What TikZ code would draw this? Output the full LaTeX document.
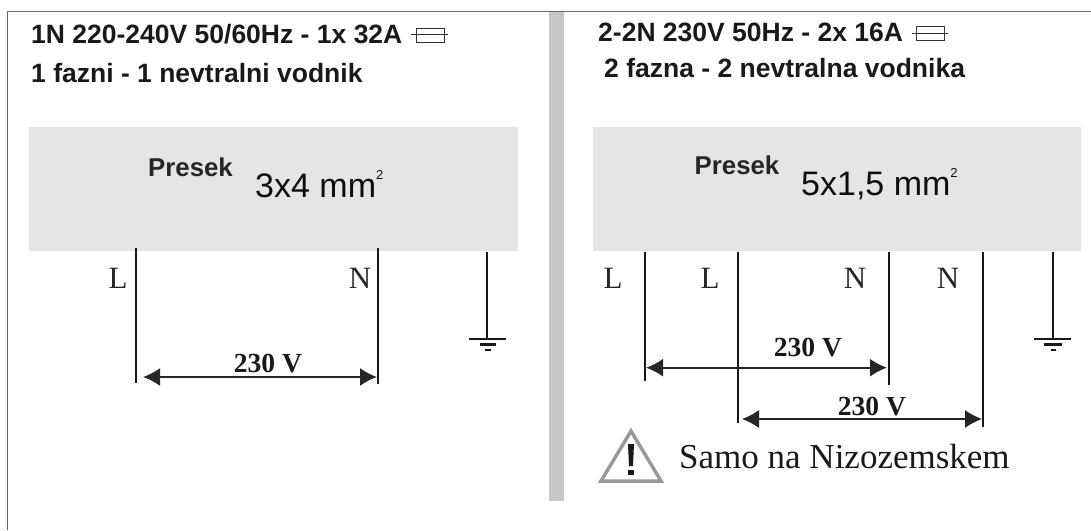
\documentclass[tikz,border=0pt]{standalone}
\usepackage{fontspec}
\usetikzlibrary{arrows.meta}
\setmainfont{Liberation Serif}
\setsansfont{Liberation Sans}
\begin{document}
\begin{tikzpicture}[
        x=1pt,y=-1pt,
        head/.style={anchor=base west,inner sep=0pt,font=\sffamily\bfseries\fontsize{26.5}{28}\selectfont,text=black!90},
        presek/.style={anchor=base west,inner sep=0pt,font=\sffamily\bfseries\fontsize{25.8}{27}\selectfont,text=black!85},
        sizelab/.style={anchor=base west,inner sep=0pt,font=\sffamily\fontsize{34}{36}\selectfont,text=black!95},
        phase/.style={anchor=base,inner sep=0pt,font=\fontsize{31}{32}\selectfont,text=black!85},
        volt/.style={anchor=base,inner sep=0pt,font=\bfseries\fontsize{27.6}{29}\selectfont,text=black!90},
        wire/.style={draw=black!90,line width=2.1pt},
        spanarrow/.style={draw=black!85,line width=1.9pt,{Latex[length=17pt,width=18pt]}-{Latex[length=17pt,width=18pt]}},
        fuse/.style={draw=black!80,line width=0.7pt}
      ]
      \useasboundingbox (0,0) rectangle (1091,530);
      \definecolor{panel}{RGB}{228,229,231}
      \definecolor{rule}{RGB}{198,199,201}
      % frame
      \draw[black!60,line width=1.2pt] (7.5,530) -- (7.5,11.5) -- (1091,11.5);
      \fill[rule] (548.5,12) rectangle (564,501);
      \fill[panel] (28.5,127) rectangle (518,251);
      \fill[panel] (593,127) rectangle (1081,251);
      % left side
      \node[head] (headl) at (31,43) {1N 220-240V 50/60Hz - 1x 32A};
      \node[head] (subl) at (31,82) {1 fazni - 1 nevtralni vodnik};
      \draw[fuse] (416,28) rectangle (444,42);
      \draw[fuse] (411,34.7) -- (448,34.7);
      \node[presek] (presl) at (148,176) {Presek};
      \node[sizelab] (sizel) at (255,197) {3x4 mm\raisebox{18pt}{\fontsize{13}{13}\selectfont 2}};
      \coordinate (ltop) at (136,248);
      \coordinate (lbot) at (136,383);
      \coordinate (ntop) at (378,248);
      \coordinate (nbot) at (378,384);
      \draw[wire] (ltop) -- (lbot);
      \draw[wire] (ntop) -- (nbot);
      \node[phase] (labl) at (118,288) {L};
      \node[phase] (labn) at (360,288) {N};
      \coordinate (va) at (143,377);
      \coordinate (vb) at (377,377);
      \draw[spanarrow] (va) -- (vb);
      \node[volt] (voltl) at (268,372) {230 V};
      % earth left
      \coordinate (etop) at (487,252);
      \coordinate (ebot) at (487,339);
      \draw[wire,line width=2.8pt] (etop) -- (ebot);
      \draw[wire] (469,339) -- (506,339);
      \draw[wire] (480,344.5) -- (496,344.5);
      \draw[wire] (485,350) -- (491,350);
      % right side
      \node[head] (headr) at (598,41.7) {2-2N 230V 50Hz - 2x 16A};
      \node[head] (subr) at (604,77.7) {2 fazna - 2 nevtralna vodnika};
      \draw[fuse] (916,26) rectangle (944.5,40.7);
      \draw[fuse] (912,33.3) -- (948,33.3);
      \node[presek] (presr) at (694.5,174) {Presek};
      \node[sizelab] (sizer) at (801,195) {5x1,5 mm\raisebox{18pt}{\fontsize{13}{13}\selectfont 2}};
      \coordinate (la) at (645,252);
      \coordinate (lb) at (645,381);
      \coordinate (lc) at (738,252);
      \coordinate (ld) at (738,423);
      \coordinate (na) at (889,252);
      \coordinate (nb) at (889,385);
      \coordinate (nc) at (983,252);
      \coordinate (nd) at (983,427);
      \draw[wire] (la) -- (lb);
      \draw[wire] (lc) -- (ld);
      \draw[wire] (na) -- (nb);
      \draw[wire] (nc) -- (nd);
      \node[phase] (labla) at (613,288) {L};
      \node[phase] (lablb) at (710,288) {L};
      \node[phase] (labna) at (855,288) {N};
      \node[phase] (labnb) at (948,288) {N};
      \coordinate (vc) at (646,367.7);
      \coordinate (vd) at (887,367.7);
      \coordinate (ve) at (742,419);
      \coordinate (vf) at (982,419);
      \draw[spanarrow] (vc) -- (vd);
      \draw[spanarrow,line width=1.2pt] (ve) -- (vf);
      \node[volt] (voltra) at (808,356) {230 V};
      \node[volt] (voltrb) at (872,415) {230 V};
      % earth right
      \coordinate (fa) at (1053,252);
      \coordinate (fb) at (1053,339);
      \draw[wire,line width=2.8pt] (fa) -- (fb);
      \draw[wire] (1034,339) -- (1071,339);
      \draw[wire] (1044,344.5) -- (1062,344.5);
      \draw[wire] (1051,350) -- (1056,350);
      % warning
      \draw[black!40,line width=3.5pt,line join=miter] (631,431) -- (661,481) -- (601,481) -- cycle;
      \fill[black!90] (628,444) -- (634,444) -- (633,466) -- (629,466) -- cycle;
      \fill[black!90] (628,470) rectangle (634,475);
      \node[anchor=base west,inner sep=0pt,font=\fontsize{35}{37}\selectfont,text=black!90] (samo) at (679,468) {Samo na Nizozemskem};
    \end{tikzpicture}
\end{document}
